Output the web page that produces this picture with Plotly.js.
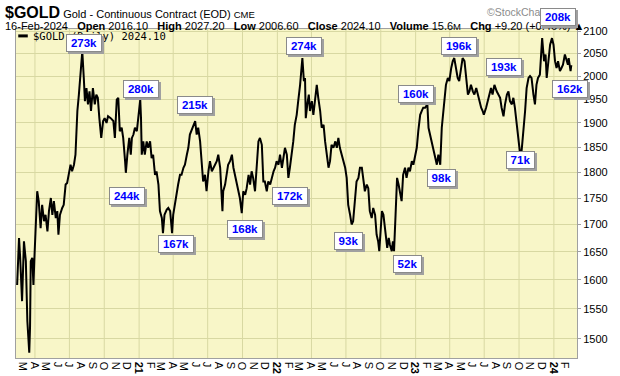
<!DOCTYPE html>
<html><head><meta charset="utf-8">
<script src="https://cdn.plot.ly/plotly-3.0.1.min.js"></script>
<style>html,body{margin:0;padding:0;background:#fff}#chart{width:620px;height:376px}</style>
</head><body><div id="chart"></div>
<script>
// ---- data ----
const dates = [
"2020-02-14","2020-02-19","2020-02-22","2020-02-27","2020-03-03","2020-03-08","2020-03-12","2020-03-17","2020-03-19","2020-03-21","2020-03-25","2020-03-28","2020-03-31",
"2020-04-03","2020-04-07","2020-04-11","2020-04-16","2020-04-20","2020-04-25","2020-04-29","2020-05-04","2020-05-08","2020-05-13","2020-05-17","2020-05-21","2020-05-26","2020-05-30",
"2020-06-02","2020-06-06","2020-06-12","2020-06-16","2020-06-21","2020-06-25","2020-06-29","2020-07-04","2020-07-08","2020-07-13","2020-07-17","2020-07-22","2020-07-26","2020-07-31",
"2020-08-04","2020-08-08","2020-08-11","2020-08-15","2020-08-19","2020-08-23","2020-08-27","2020-09-01","2020-09-06","2020-09-10","2020-09-14","2020-09-18","2020-09-23","2020-09-28",
"2020-10-02","2020-10-07","2020-10-11","2020-10-18","2020-10-25","2020-10-29","2020-11-03","2020-11-07","2020-11-11","2020-11-16","2020-11-20","2020-11-25","2020-11-27",
"2020-12-01","2020-12-06","2020-12-10","2020-12-13","2020-12-17","2020-12-21","2020-12-26","2020-12-30",
"2021-01-04","2021-01-06","2021-01-08","2021-01-12","2021-01-16","2021-01-21","2021-01-25","2021-01-30","2021-02-03","2021-02-07","2021-02-12","2021-02-16","2021-02-21","2021-02-25",
"2021-03-02","2021-03-05","2021-03-09","2021-03-15","2021-03-19","2021-03-24","2021-03-29","2021-04-01","2021-04-06","2021-04-10","2021-04-14","2021-04-19","2021-04-23","2021-04-28",
"2021-05-02","2021-05-07","2021-05-11","2021-05-15","2021-05-20","2021-05-24","2021-05-29","2021-06-02","2021-06-06","2021-06-11","2021-06-15","2021-06-19","2021-06-24","2021-06-28",
"2021-07-03","2021-07-07","2021-07-12","2021-07-16","2021-07-20","2021-07-25","2021-07-29","2021-08-03","2021-08-09","2021-08-11","2021-08-16","2021-08-20","2021-08-24","2021-08-29",
"2021-09-03","2021-09-07","2021-09-11","2021-09-16","2021-09-20","2021-09-24","2021-09-29","2021-10-03","2021-10-08","2021-10-12","2021-10-17","2021-10-21","2021-10-25","2021-10-29",
"2021-11-03","2021-11-08","2021-11-12","2021-11-16","2021-11-21","2021-11-25","2021-11-29","2021-12-04","2021-12-08","2021-12-13","2021-12-17","2021-12-22","2021-12-26","2021-12-30",
"2022-01-04","2022-01-08","2022-01-13","2022-01-17","2022-01-21","2022-01-26","2022-01-30","2022-02-03","2022-02-08","2022-02-12","2022-02-16","2022-02-21","2022-02-25",
"2022-03-02","2022-03-08","2022-03-12","2022-03-15","2022-03-17","2022-03-21","2022-03-25","2022-03-28","2022-04-02","2022-04-06","2022-04-10","2022-04-15","2022-04-19","2022-04-24","2022-04-28",
"2022-05-03","2022-05-07","2022-05-11","2022-05-16","2022-05-20","2022-05-24","2022-05-29","2022-06-03","2022-06-07","2022-06-11","2022-06-15","2022-06-20","2022-06-24","2022-06-29",
"2022-07-03","2022-07-07","2022-07-12","2022-07-16","2022-07-20","2022-07-25","2022-07-29","2022-08-03","2022-08-07","2022-08-12","2022-08-16","2022-08-20","2022-08-25","2022-08-29",
"2022-09-02","2022-09-07","2022-09-11","2022-09-16","2022-09-20","2022-09-24","2022-09-27","2022-10-01","2022-10-04","2022-10-08","2022-10-12","2022-10-15","2022-10-18","2022-10-22","2022-10-25","2022-10-30",
"2022-11-02","2022-11-05","2022-11-09","2022-11-13","2022-11-17","2022-11-21","2022-11-25","2022-11-29","2022-12-04","2022-12-08","2022-12-13","2022-12-17","2022-12-22","2022-12-26","2022-12-30",
"2023-01-04","2023-01-08","2023-01-13","2023-01-17","2023-01-21","2023-01-26","2023-02-01","2023-02-04","2023-02-08","2023-02-13","2023-02-17","2023-02-21","2023-02-26",
"2023-03-02","2023-03-07","2023-03-11","2023-03-14","2023-03-18","2023-03-22","2023-03-27","2023-03-31","2023-04-05","2023-04-09","2023-04-13","2023-04-18","2023-04-22","2023-04-26",
"2023-05-01","2023-05-05","2023-05-10","2023-05-14","2023-05-19","2023-05-23","2023-05-27","2023-06-01","2023-06-05","2023-06-10","2023-06-14","2023-06-18","2023-06-23","2023-06-27","2023-06-30",
"2023-07-06","2023-07-10","2023-07-15","2023-07-19","2023-07-23","2023-07-28","2023-08-03","2023-08-07","2023-08-12","2023-08-16","2023-08-21","2023-08-25","2023-08-30",
"2023-09-03","2023-09-07","2023-09-12","2023-09-16","2023-09-20","2023-09-25","2023-09-29","2023-10-04","2023-10-06","2023-10-10","2023-10-13","2023-10-17","2023-10-21","2023-10-26","2023-10-30",
"2023-11-03","2023-11-08","2023-11-12","2023-11-16","2023-11-20","2023-11-25","2023-11-28","2023-12-01","2023-12-06","2023-12-10","2023-12-13","2023-12-17","2023-12-22","2023-12-27","2023-12-31",
"2024-01-04","2024-01-08","2024-01-12","2024-01-17","2024-01-21","2024-01-25","2024-01-30","2024-02-04","2024-02-07","2024-02-09","2024-02-14","2024-02-16"
];
const closes = [
1591,1675,1639,1563,1669,1633,1529,1477,1518,1633,1639,1591,1645,
1687,1763,1744,1693,1737,1706,1718,1687,1725,1750,1718,1744,1712,1725,
1681,1718,1731,1737,1776,1779,1795,1815,1802,1815,1835,1925,1960,2018,
2055,1996,1946,1974,1939,1967,1925,1974,1939,1960,1953,1910,1869,1904,
1910,1900,1914,1910,1904,1869,1949,1953,1883,1890,1869,1822,1799,
1835,1869,1835,1869,1876,1890,1883,1910,
1949,1910,1835,1862,1835,1862,1849,1862,1828,1835,1795,1802,1776,1725,
1712,1684,1718,1728,1731,1725,1684,1718,1744,1756,1776,1795,1795,1809,
1815,1835,1849,1876,1886,1896,1904,1876,1890,1862,1809,1782,1795,1763,
1802,1822,1802,1809,1815,1822,1835,1809,1725,1763,1776,1795,1815,1822,
1835,1809,1795,1782,1769,1750,1721,1763,1756,1769,1795,1776,1802,1789,
1763,1822,1862,1869,1855,1782,1782,1763,1782,1776,1789,1802,1809,1822,
1815,1835,1809,1835,1849,1835,1789,1809,1835,1862,1896,1917,1946,
1981,2040,1989,1996,1910,1939,1960,1925,1946,1917,1953,1981,1953,1925,1890,
1896,1862,1842,1809,1822,1855,1849,1862,1849,1869,1849,1835,1822,1809,
1789,1737,1718,1700,1706,1744,1782,1789,1809,1809,1789,1763,1776,1769,
1725,1712,1731,1718,1681,1669,1651,1693,1725,1718,1687,1675,1657,1675,1663,1651,
1669,1651,1718,1789,1776,1763,1744,1795,1809,1789,1809,1802,1822,1815,1828,
1849,1883,1917,1925,1932,1932,1939,1890,1876,1862,1842,1835,1815,
1835,1815,1890,1917,1960,1981,1996,1989,2018,2033,2040,2011,1996,1989,
2025,2040,2033,2003,1960,1967,1981,1967,1960,1974,1960,1946,1932,1925,1917,
1932,1946,1960,1974,1960,1981,1967,1960,1953,1932,1914,1939,1960,
1967,1946,1939,1953,1932,1890,1869,1835,1828,1862,1883,1925,1974,1996,2000,
1996,1960,1939,1981,1996,2003,2063,2085,2033,2048,1996,2033,2070,2085,2070,
2033,2018,2033,2011,2018,2025,2048,2033,2025,2040,2011,2024.10
];
// volume call-outs at turning points
const volText  = ["273k","280k","244k","167k","215k","168k","172k","274k","93k","52k","160k","98k","196k","193k","71k","208k","162k"];
const volDate  = ["2020-08-08","2021-01-05","2020-11-29","2021-04-08","2021-05-29","2021-10-08","2022-02-03","2022-03-12","2022-07-07","2022-12-10","2023-01-02","2023-03-09","2023-04-26","2023-08-22","2023-10-05","2024-01-12","2024-02-12"];
const volLevel = [2075,1972,1754,1664,1938,1691,1754,2068,1669,1628,1961,1789,2067,2021,1824,2133,1972];
// axis labels
const monthLetters = ["J","F","M","A","M","J","J","A","S","O","N","D"];
const yTicks = [1500,1550,1600,1650,1700,1750,1800,1850,1900,1950,2000,2050,2100];
const monthTickDates = [];
const monthTickText = [];
(function(){
  let y=2020, m=2;
  while (y<2024 || (y===2024 && m<=1)) {
    const mm = String(m+1).padStart(2,"0");
    monthTickDates.push(y+"-"+mm+"-04");
    monthTickText.push(m===0 ? "<b>"+String(y).slice(2)+"</b>" : monthLetters[m]);
    m++; if (m>11){m=0;y++;}
  }
})();

const xRange = ["2020-02-11","2024-03-02"];
const yLo = 1468.6, yHi = 2106;
const toPaperY = v => (Math.log10(v)-Math.log10(yLo))/(Math.log10(yHi)-Math.log10(yLo));

// quarterly vertical grid
const gridColor = "#d8d8a2";
const shapes = [];
for (let y=2020; y<=2024; y++) for (const mm of ["01","04","07","10"]) {
  const d = y+"-"+mm+"-01";
  if (d>xRange[0] && d<xRange[1])
    shapes.push({type:"line",xref:"x",yref:"paper",x0:d,x1:d,y0:0,y1:1,line:{color:gridColor,width:1},layer:"below"});
}
// legend swatch
shapes.push({type:"line",xref:"paper",yref:"paper",x0:0.004,x1:0.021,y0:0.979,y1:0.979,line:{color:"#000",width:3}});

const annotations = [];
// header lines
annotations.push({xref:"paper",yref:"paper",x:-0.024,y:1.050,xanchor:"left",yanchor:"middle",showarrow:false,
  text:'<span style="font-size:16px"><b>$GOLD</b></span> Gold - Continuous Contract (EOD) <span style="font-size:9.5px">CME</span>',
  font:{family:"Liberation Sans, Arial, sans-serif",size:11,color:"#000"}});
annotations.push({xref:"paper",yref:"paper",x:-0.024,y:1.008,xanchor:"left",yanchor:"middle",showarrow:false,
  text:'16-Feb-2024&nbsp;&nbsp;&nbsp;<b>Open</b> 2016.10&nbsp;&nbsp;&nbsp;<b>High</b> 2027.20&nbsp;&nbsp;&nbsp;<b>Low</b> 2006.60&nbsp;&nbsp;&nbsp;<b>Close</b> 2024.10&nbsp;&nbsp;&nbsp;<b>Volume</b> 15.6<span style="font-size:9.5px">M</span>&nbsp;&nbsp;&nbsp;<b>Chg</b> +9.20 (+0.46%) ▲',
  font:{family:"Liberation Sans, Arial, sans-serif",size:11,color:"#000"}});
annotations.push({xref:"paper",yref:"paper",x:1.0,y:1.052,xanchor:"right",yanchor:"middle",showarrow:false,
  text:"©StockCharts.com",font:{family:"Liberation Sans, Arial, sans-serif",size:10.5,color:"#8c8c8c"}});
// legend text
annotations.push({xref:"paper",yref:"paper",x:0.027,y:0.979,xanchor:"left",yanchor:"middle",showarrow:false,
  text:"$GOLD (Daily) "+closes[closes.length-1].toFixed(2),font:{family:"DejaVu Sans Mono, monospace",size:10.5,color:"#000"}});
// volume boxes with drop shadow
volText.forEach((t,i)=>{
  const w = t.length>=4 ? 30 : 23;
  const base = {xref:"x",yref:"paper",x:volDate[i],y:toPaperY(volLevel[i]),xanchor:"center",yanchor:"middle",
    text:"<b>"+t+"</b>",showarrow:false,width:w,height:12,
    font:{family:"Liberation Sans, Arial, sans-serif",size:11.5,color:"#0000ff"},borderpad:2,borderwidth:1,align:"center",valign:"middle"};
  annotations.push(Object.assign({},base,{text:" ",xshift:2,yshift:-2,bgcolor:"#a0a0a0",bordercolor:"#a0a0a0"}));
  annotations.push(Object.assign({},base,{bgcolor:"#ffffff",bordercolor:"#8a8a8a"}));
});

const trace = {type:"scatter",mode:"lines",x:dates,y:closes,line:{color:"#000",width:2},name:"$GOLD (Daily)",showlegend:false,hoverinfo:"skip"};

const layout = {
  width:620,height:376,margin:{l:16,r:43,t:29,b:18},
  paper_bgcolor:"#ffffff",plot_bgcolor:"#f8f6c8",
  font:{family:"Liberation Sans, Arial, sans-serif",size:11,color:"#000"},
  xaxis:{type:"date",range:xRange,tickmode:"array",tickvals:monthTickDates,ticktext:monthTickText,
    showgrid:false,showline:true,mirror:true,linecolor:"#a0a0a0",ticks:"",ticklabelstandoff:-5,tickfont:{size:11},zeroline:false},
  yaxis:{type:"log",side:"right",range:[Math.log10(yLo),Math.log10(yHi)],tickmode:"array",tickvals:yTicks,ticktext:yTicks.map(String),
    showgrid:true,gridcolor:gridColor,showline:true,mirror:true,linecolor:"#a0a0a0",ticks:"outside",ticklen:3,tickcolor:"#a0a0a0",tickfont:{size:11},zeroline:false},
  shapes:shapes,annotations:annotations,showlegend:false
};
Plotly.newPlot("chart",[trace],layout,{staticPlot:true,displayModeBar:false});
</script></body></html>
